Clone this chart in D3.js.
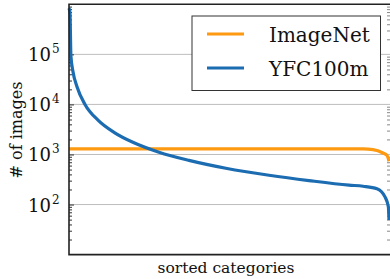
<!DOCTYPE html>
<html>
<head>
<meta charset="utf-8">
<script src="https://cdn.jsdelivr.net/npm/d3@7"></script>
<style>
  body { margin: 0; background: #fff; }
</style>
</head>
<body>
<div id="svg"></div>
<script>
// fraction of sorted categories -> number of images
const imagenetX = [0, 0.5, 0.919, 0.95, 0.981, 0.994, 1.0]
const imagenetY = [1290, 1290, 1290, 1250, 1070, 950, 730]

const yfcX = [0, 0.003, 0.006, 0.0125, 0.025, 0.05, 0.0906, 0.1406, 0.203, 0.281, 0.375, 0.494, 0.625, 0.75, 0.875, 0.919, 0.9625, 0.9875, 0.998, 1.0]
const yfcY = [840000, 670000, 92000, 44900, 22500, 10000, 4850, 2770, 1710, 1110, 762, 525, 385, 301, 244, 232, 207, 142, 90, 49]

const yTicks = [2, 3, 4, 5]   // exponents of 10
const seriesNames = ['ImageNet', 'YFC100m']
const seriesColors = ['#fd9a12', '#1c6cb1']

const FONT = '"DejaVu Serif", "Liberation Serif", "Times New Roman", serif'

const W = 390, H = 279
const m = {left: 69, right: 390, top: 4.3, bottom: 254.6}

const svg = d3.select('#svg').append('svg')
    .attr('width', W)
    .attr('height', H)
    .attr('font-family', FONT)
    .style('display', 'block')

const x = d3.scaleLinear().domain([0, 1]).range([m.left, m.right - 1])
const y = d3.scaleLog().domain([10, 1e6]).range([m.bottom, m.top])

// grid
svg.append('g')
    .selectAll('line')
    .data(yTicks)
    .enter()
    .append('line')
    .attr('x1', m.left).attr('x2', m.right)
    .attr('y1', d => y(Math.pow(10, d))).attr('y2', d => y(Math.pow(10, d)))
    .attr('stroke', '#bdbdbd')
    .attr('stroke-width', 1)

// minor ticks, left and right, pointing inward
const minor = []
for (let e = 1; e < 6; e++) for (let k = 2; k <= 9; k++) minor.push(k * Math.pow(10, e))

svg.append('g')
    .attr('transform', 'translate(' + m.left + ',0)')
    .call(d3.axisRight(y).tickValues(minor).tickSize(3).tickFormat(''))
    .call(g => g.select('.domain').remove())
    .selectAll('line').attr('stroke', '#333')

svg.append('g')
    .attr('transform', 'translate(' + m.left + ',0)')
    .call(d3.axisRight(y).tickValues(yTicks.map(d => Math.pow(10, d))).tickSize(5).tickFormat(''))
    .call(g => g.select('.domain').remove())
    .selectAll('line').attr('stroke', '#333')

svg.append('g')
    .attr('transform', 'translate(' + m.right + ',0)')
    .call(d3.axisLeft(y).tickValues(minor).tickSize(3).tickFormat(''))
    .call(g => g.select('.domain').remove())
    .selectAll('line').attr('stroke', '#888')

// tick labels 10^n
svg.append('g')
    .selectAll('text')
    .data(yTicks)
    .enter()
    .append('text')
    .attr('x', 51)
    .attr('y', d => y(Math.pow(10, d)) + 7)
    .attr('text-anchor', 'end')
    .attr('font-family', FONT)
    .attr('font-size', 18)
    .attr('fill', '#111')
    .text('10')
svg.append('g')
    .selectAll('text')
    .data(yTicks)
    .enter()
    .append('text')
    .attr('x', 52)
    .attr('y', d => y(Math.pow(10, d)) - 1)
    .attr('font-family', FONT)
    .attr('font-size', 12)
    .attr('fill', '#111')
    .text(d => d)

// lines
const line = d3.line()
    .x(d => x(d[0]))
    .y(d => y(d[1]))
    .curve(d3.curveMonotoneX)

svg.append('path')
    .datum(imagenetX.map((v, i) => [v, imagenetY[i]]))
    .attr('d', line)
    .attr('fill', 'none')
    .attr('stroke', seriesColors[0])
    .attr('stroke-width', 3.2)

svg.append('path')
    .datum(yfcX.map((v, i) => [v, yfcY[i]]))
    .attr('d', line)
    .attr('fill', 'none')
    .attr('stroke', seriesColors[1])
    .attr('stroke-width', 3.2)

// frame
svg.append('path')
    .attr('d', 'M' + m.right + ',' + m.top + 'H' + m.left + 'V' + m.bottom + 'H' + m.right)
    .attr('fill', 'none')
    .attr('stroke', '#222')
    .attr('stroke-width', 1.6)

// axis titles
svg.append('text')
    .attr('x', 226)
    .attr('y', 273)
    .attr('text-anchor', 'middle')
    .attr('font-family', FONT)
    .attr('font-size', 15.5)
    .attr('fill', '#111')
    .text('sorted categories')

svg.append('text')
    .attr('transform', 'translate(22,' + 130 + ') rotate(-90)')
    .attr('text-anchor', 'middle')
    .attr('font-family', FONT)
    .attr('font-size', 16)
    .attr('fill', '#111')
    .text('# of images')

// legend
const leg = svg.append('g')
leg.append('rect')
    .attr('x', 192).attr('y', 16)
    .attr('width', 188.5).attr('height', 74.5)
    .attr('fill', '#fff')
    .attr('stroke', '#333')
    .attr('stroke-width', 1)

const items = leg.selectAll('g.item')
    .data(seriesNames)
    .enter()
    .append('g')
    .attr('transform', (d, i) => 'translate(0,' + (34 + i * 34) + ')')
items.append('line')
    .attr('x1', 207).attr('x2', 244)
    .attr('stroke', (d, i) => seriesColors[i])
    .attr('stroke-width', 3.2)
items.append('text')
    .attr('x', 269)
    .attr('y', 8)
    .attr('font-family', FONT)
    .attr('font-size', 20)
    .attr('fill', '#111')
    .text(d => d)
</script>
</body>
</html>
